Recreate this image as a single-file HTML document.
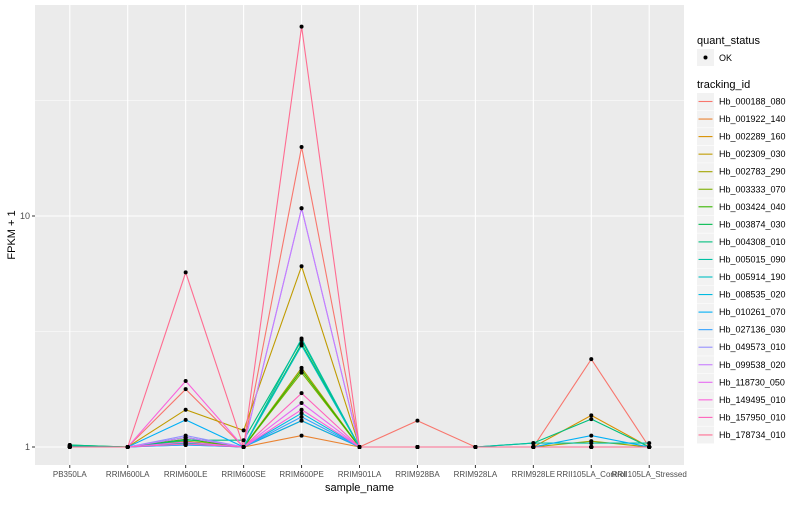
<!DOCTYPE html>
<html><head><meta charset="utf-8"><style>
body{margin:0;background:#fff;font-family:"Liberation Sans",sans-serif}
svg text{font-family:"Liberation Sans",sans-serif}
</style></head><body>
<svg id="chart" width="800" height="500" xmlns="http://www.w3.org/2000/svg"></svg>
<script>
const categories=["PB350LA","RRIM600LA","RRIM600LE","RRIM600SE","RRIM600PE","RRIM901LA","RRIM928BA","RRIM928LA","RRIM928LE","RRII105LA_Control","RRII105LA_Stressed"];
const seriesNames=["Hb_000188_080","Hb_001922_140","Hb_002289_160","Hb_002309_030","Hb_002783_290","Hb_003333_070","Hb_003424_040","Hb_003874_030","Hb_004308_010","Hb_005015_090","Hb_005914_190","Hb_008535_020","Hb_010261_070","Hb_027136_030","Hb_049573_010","Hb_099538_020","Hb_118730_050","Hb_149495_010","Hb_157950_010","Hb_178734_010"];
const colors=["#F8766D","#EA8331","#D89000","#C09B00","#A3A500","#7CAE00","#39B600","#00BB4E","#00BF7D","#00C1A3","#00BFC4","#00BAE0","#00B0F6","#35A2FF","#9590FF","#C77CFF","#E76BF3","#FA62DB","#FF62BC","#FF6C91"];
const s00=[1.0,1,1.78,1.0,19.9,1,1.30,1,1.0,2.4,1.0];
const s01=[1.0,1,1.03,1.0,1.12,1,1,1,1.0,1.0,1.0];
const s02=[1.0,1,1.05,1.0,1.3,1,1,1,1.0,1.37,1.0];
const s03=[1.0,1,1.45,1.18,6.06,1,1,1,1.0,1.0,1.0];
const s04=[1.0,1,1.06,1.0,2.2,1,1,1,1.0,1.06,1.0];
const s05=[1.01,1,1.05,1.0,2.1,1,1,1,1.0,1.0,1.0];
const s06=[1.01,1,1.08,1.0,2.15,1,1,1,1.0,1.0,1.0];
const s07=[1.02,1,1.1,1.0,2.8,1,1,1,1.0,1.0,1.0];
const s08=[1.02,1,1.07,1.07,2.9,1,1,1,1.04,1.32,1.0];
const s09=[1.01,1,1.04,1.0,2.95,1,1,1,1.04,1.04,1.04];
const s10=[1.0,1,1.02,1.0,2.75,1,1,1,1.0,1.0,1.0];
const s11=[1.0,1,1.03,1.0,1.4,1,1,1,1.0,1.0,1.0];
const s12=[1.0,1,1.31,1.0,1.3,1,1,1,1.0,1.12,1.0];
const s13=[1.0,1,1.02,1.0,1.35,1,1,1,1.0,1.0,1.0];
const s14=[1.0,1,1.12,1.0,10.8,1,1,1,1.0,1.0,1.0];
const s15=[1.0,1,1.1,1.0,10.8,1,1,1,1.0,1.0,1.0];
const s16=[1.0,1,1.05,1.0,1.55,1,1,1,1.0,1.0,1.0];
const s17=[1.0,1,1.93,1.0,1.45,1,1,1,1.0,1.0,1.0];
const s18=[1.0,1,1.03,1.0,1.71,1,1,1,1.0,1.0,1.0];
const s19=[1.0,1,5.7,1.0,66,1,1,1,1.0,1.0,1.0];
const seriesValues=[s00,s01,s02,s03,s04,s05,s06,s07,s08,s09,s10,s11,s12,s13,s14,s15,s16,s17,s18,s19];
const yTicks=[1,10];
const yMinor=[Math.sqrt(10),Math.sqrt(1000)];

const NS="http://www.w3.org/2000/svg";
const svg=document.getElementById('chart');
const P={l:35,r:684,t:5,b:465};
const step=(P.r-P.l)/(categories.length-1+1.2);
function xs(i){return P.l+step*(0.6+i);}
function ys(v){return 447-231*Math.log10(v);}
function mk(tag,attrs,parent){const e=document.createElementNS(NS,tag);for(const k in attrs)e.setAttribute(k,attrs[k]);(parent||svg).appendChild(e);return e;}

const bg=mk('rect',{x:P.l,y:P.t,width:P.r-P.l,height:P.b-P.t,fill:'#EBEBEB'});


yMinor.forEach(v=>{const g=mk('line',{x1:P.l,x2:P.r,y1:ys(v),y2:ys(v),stroke:'#fff','stroke-width':0.5});

});
yTicks.forEach(v=>{const g=mk('line',{x1:P.l,x2:P.r,y1:ys(v),y2:ys(v),stroke:'#fff','stroke-width':1.1});


const tk=mk('line',{x1:P.l-3,x2:P.l,y1:ys(v),y2:ys(v),stroke:'#333','stroke-width':1});


const t=mk('text',{x:P.l-5,y:ys(v)+3,'text-anchor':'end','font-size':9,fill:'#4D4D4D'});t.textContent=v;

});
categories.forEach((c,i)=>{const g=mk('line',{x1:xs(i),x2:xs(i),y1:P.t,y2:P.b,stroke:'#fff','stroke-width':1.1});


const tk=mk('line',{x1:xs(i),x2:xs(i),y1:P.b,y2:P.b+3,stroke:'#333','stroke-width':1});


const t=mk('text',{x:xs(i),y:P.b+12,'text-anchor':'middle','font-size':8,fill:'#4D4D4D'});t.textContent=c;

});
seriesValues.forEach((vals,s)=>{const pts=vals.map((v,i)=>xs(i).toFixed(1)+','+ys(v).toFixed(1)).join(' ');
const l=mk('polyline',{points:pts,fill:'none',stroke:colors[s],'stroke-width':1.1});

});
seriesValues.forEach((vals,s)=>{vals.forEach((v,i)=>{const c=mk('circle',{cx:xs(i),cy:ys(v),r:2,fill:'#000'});

});});
const xt=mk('text',{x:(P.l+P.r)/2,y:491,'text-anchor':'middle','font-size':11,fill:'#000'});xt.textContent='sample_name';


const yt=mk('text',{x:0,y:0,'text-anchor':'middle','font-size':11,fill:'#000',transform:'translate(15,235) rotate(-90)'});yt.textContent='FPKM + 1';


// legend
const lq=mk('text',{x:697,y:44,'font-size':11,fill:'#000'});lq.textContent='quant_status';


const qk=mk('rect',{x:697,y:49,width:17,height:17,fill:'#F2F2F2'});


mk('circle',{cx:705.5,cy:57.5,r:2,fill:'#000'});
const qt=mk('text',{x:719,y:61,'font-size':9,fill:'#000'});qt.textContent='OK';


const lt=mk('text',{x:697,y:88,'font-size':11,fill:'#000'});lt.textContent='tracking_id';


seriesNames.forEach((n,s)=>{const cy=101.5+s*17.55;
const g=mk('g',{});


mk('rect',{x:697,y:cy-8.5,width:17,height:17,fill:'#F2F2F2'},g);
mk('line',{x1:698.5,x2:712.5,y1:cy,y2:cy,stroke:colors[s],'stroke-width':1.1},g);
const t=mk('text',{x:719,y:cy+3,'font-size':9,fill:'#000'},g);t.textContent=n;});
</script>
</body></html>
